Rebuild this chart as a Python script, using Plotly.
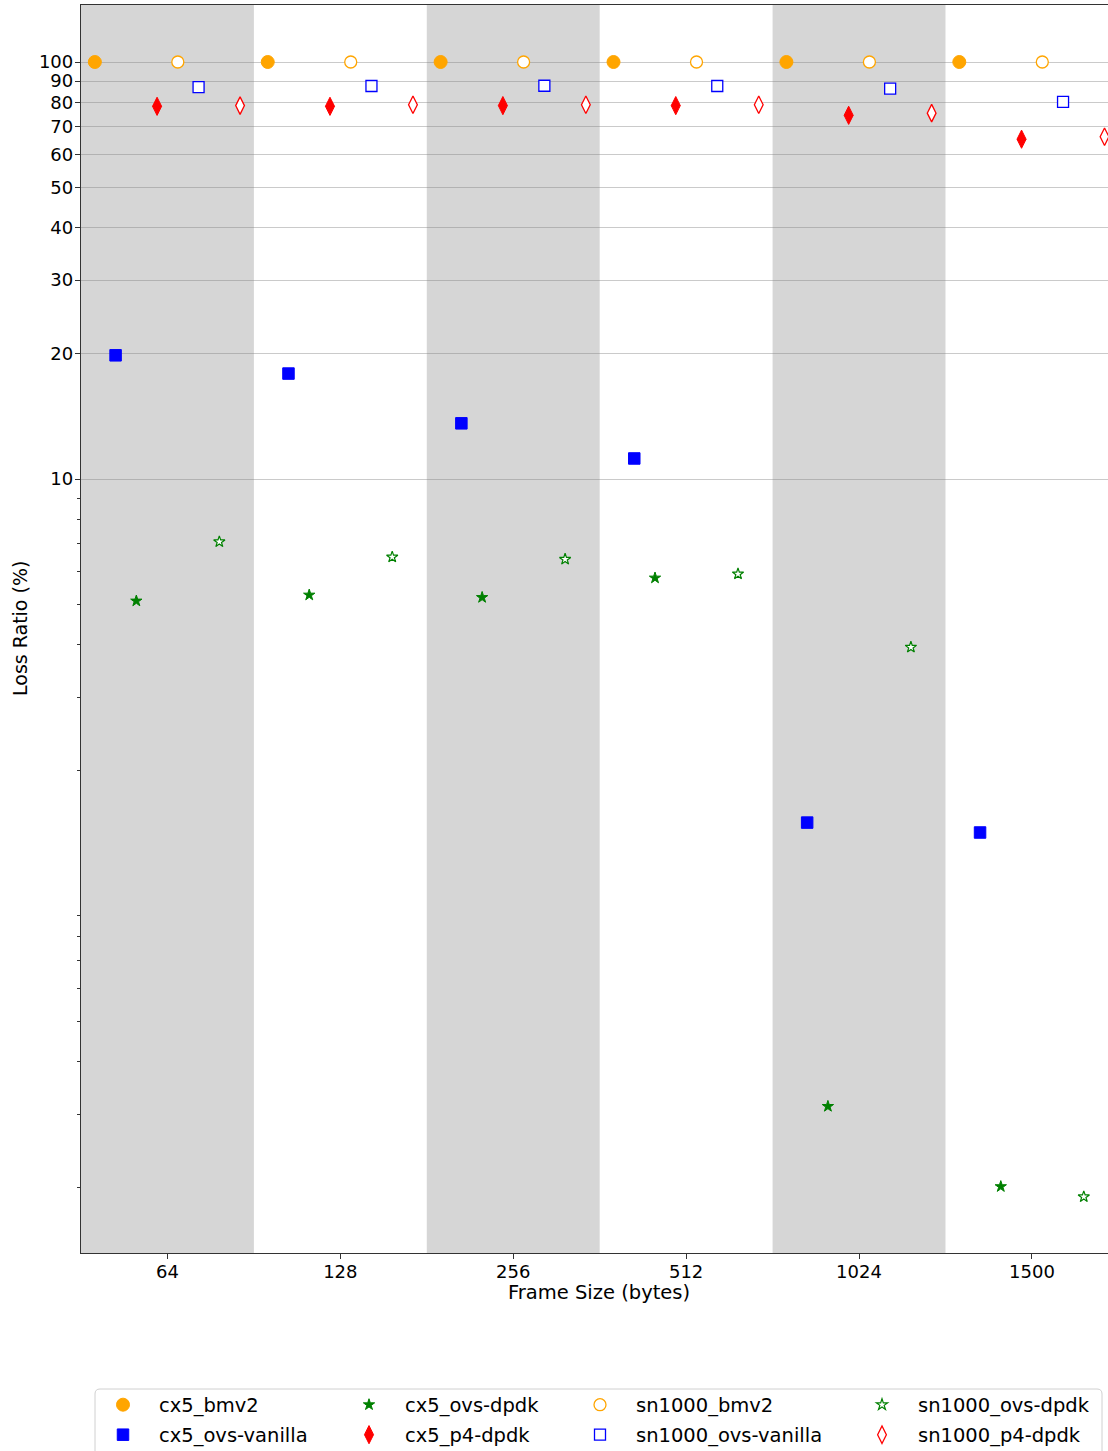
import plotly.graph_objects as go

# ---------------- data ----------------
frame_sizes = ["64", "128", "256", "512", "1024", "1500"]
series_names = ["cx5_bmv2", "cx5_ovs-vanilla", "cx5_ovs-dpdk", "cx5_p4-dpdk",
                "sn1000_bmv2", "sn1000_ovs-vanilla", "sn1000_ovs-dpdk", "sn1000_p4-dpdk"]
cx5_bmv2 = [100, 100, 100, 100, 100, 100]
cx5_ovs_vanilla = [19.8, 17.9, 13.6, 11.2, 1.50, 1.42]
cx5_ovs_dpdk = [5.10, 5.27, 5.20, 5.79, 0.313, 0.201]
cx5_p4_dpdk = [78.3, 78.3, 78.6, 78.6, 74.5, 65.3]
sn1000_bmv2 = [100, 100, 100, 100, 100, 100]
sn1000_ovs_vanilla = [87.0, 87.6, 87.7, 87.6, 86.3, 80.2]
sn1000_ovs_dpdk = [7.07, 6.50, 6.42, 5.92, 3.95, 0.190]
sn1000_p4_dpdk = [78.6, 79.0, 79.0, 79.0, 75.4, 66.2]
series_values = [cx5_bmv2, cx5_ovs_vanilla, cx5_ovs_dpdk, cx5_p4_dpdk,
                 sn1000_bmv2, sn1000_ovs_vanilla, sn1000_ovs_dpdk, sn1000_p4_dpdk]
y_tick_values = [10, 20, 30, 40, 50, 60, 70, 80, 90, 100]
y_minor_ticks = [0.2, 0.3, 0.4, 0.5, 0.6, 0.7, 0.8, 0.9, 2, 3, 4, 5, 6, 7, 8, 9]

# ---------------- styling ----------------
W, H = 1108, 1451
L, T, R, B = 81, 5, 1108, 1253          # plot area in pixels
FONT = "DejaVu Sans"
ORANGE, BLUE, GREEN, RED = "#FFA500", "#0000FF", "#008000", "#FF0000"
styles = [
    dict(symbol="circle", size=13, color=ORANGE, line=dict(color=ORANGE, width=1)),
    dict(symbol="square", size=11.5, color=BLUE, line=dict(color=BLUE, width=1)),
    dict(symbol="star", size=8.5, color=GREEN, line=dict(color=GREEN, width=1)),
    dict(symbol="diamond-tall", size=13, color=RED, line=dict(color=RED, width=1)),
    dict(symbol="circle", size=12, color="white", line=dict(color=ORANGE, width=1.3)),
    dict(symbol="square", size=11, color="white", line=dict(color=BLUE, width=1.3)),
    dict(symbol="star", size=8.5, color="white", line=dict(color=GREEN, width=1.2)),
    dict(symbol="diamond-tall", size=12.5, color="white", line=dict(color=RED, width=1.3)),
]
n_series = len(series_names)
offset_step = 0.12
offsets = [(-(n_series - 1) / 2 + i) * offset_step for i in range(n_series)]

# legend layout (pixel positions of marker centre / row)
legend_cols_px = [123, 369, 600, 882]
legend_rows_py = [1405, 1435]
ITEMW = 62


def paper_x(px):
    return (px - L) / (R - L)


def paper_y(py):
    return (B - py) / (B - T)


fig = go.Figure()
for i, (name, vals) in enumerate(zip(series_names, series_values)):
    col, row = divmod(i, 2)
    lg = "legend" if i == 0 else f"legend{i + 1}"
    fig.add_trace(go.Scatter(
        x=[k + offsets[i] for k in range(len(frame_sizes))],
        y=vals, mode="markers", name=name, marker=styles[i],
        legend=lg, cliponaxis=True,
    ))
    fig.layout[lg] = dict(
        xref="container", yref="container",
        x=(legend_cols_px[col] - 5 - ITEMW / 2) / W,
        y=1 - legend_rows_py[row] / H,
        xanchor="left", yanchor="middle",
        bgcolor="rgba(0,0,0,0)", borderwidth=0,
        itemwidth=ITEMW,
        font=dict(family=FONT, size=19.5, color="#000"),
    )

# alternating shaded bands
for k in range(0, len(frame_sizes), 2):
    fig.add_shape(type="rect", xref="x", yref="paper", x0=k - 0.5, x1=k + 0.5,
                  y0=0, y1=1, fillcolor="#d6d6d6", line=dict(width=0), layer="below")

# legend frame (rounded)
x0, x1 = paper_x(95), paper_x(1102)
yt, yb = paper_y(1389), paper_y(1475)
rx, ry = 5 / (R - L), 5 / (B - T)
path = (f"M {x0 + rx},{yt} L {x1 - rx},{yt} Q {x1},{yt} {x1},{yt - ry} "
        f"L {x1},{yb} L {x0},{yb} L {x0},{yt - ry} Q {x0},{yt} {x0 + rx},{yt} Z")
fig.add_shape(type="path", xref="paper", yref="paper", path=path,
              line=dict(color="#d0d0d0", width=1), fillcolor="rgba(255,255,255,0)",
              layer="above")

# axis titles
fig.add_annotation(text="Frame Size (bytes)", xref="paper", yref="paper",
                   x=paper_x(599), y=paper_y(1293), xanchor="center", yanchor="middle",
                   showarrow=False, font=dict(family=FONT, size=19.5, color="#000"))
fig.add_annotation(text="Loss Ratio (%)", xref="paper", yref="paper",
                   x=paper_x(20), y=paper_y(629), xanchor="center", yanchor="middle",
                   textangle=-90, showarrow=False,
                   font=dict(family=FONT, size=19, color="#000"))

fig.update_layout(
    width=W, height=H,
    margin=dict(l=L, r=W - R, t=T, b=H - B, pad=0, autoexpand=False),
    paper_bgcolor="white", plot_bgcolor="white",
    showlegend=True,
    xaxis=dict(
        range=[-0.5, 5.44], tickmode="array", tickvals=list(range(len(frame_sizes))),
        ticktext=frame_sizes, showgrid=False, zeroline=False, automargin=False,
        showline=True, linecolor="#333", linewidth=1.3, mirror=True,
        ticks="outside", ticklen=5, tickcolor="#333", tickwidth=1,
        ticklabelstandoff=-3,
        tickfont=dict(family=FONT, size=18, color="#000"),
    ),
    yaxis=dict(
        type="log", range=[-0.8561, 2.1367], tickmode="array", automargin=False,
        tickvals=y_tick_values, ticktext=[str(v) for v in y_tick_values],
        showgrid=True, gridcolor="rgba(128,128,128,0.42)", gridwidth=1.4,
        zeroline=False, showline=True, linecolor="#333", linewidth=1.3,
        ticks="outside", ticklen=5, tickcolor="#333", tickwidth=1,
        ticklabelstandoff=-2,
        tickfont=dict(family=FONT, size=18, color="#000"),
        minor=dict(tickvals=y_minor_ticks, ticks="outside", ticklen=3,
                   tickcolor="#333", showgrid=False),
    ),
)

fig.write_html("out.html", config={"displayModeBar": False},
               post_script="document.body.style.margin='0';")
